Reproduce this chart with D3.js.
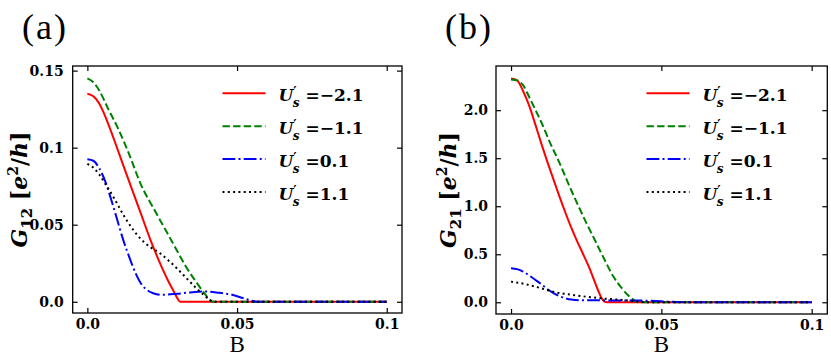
<!DOCTYPE html>
<html>
<head>
<meta charset="utf-8">
<script src="https://cdn.jsdelivr.net/npm/d3@7"></script>
<style>
  body { margin: 0; background: #fff; }
  svg { display: block; }
  svg text { font-family: "DejaVu Serif", serif; }
  .tick text { font-family: "DejaVu Serif", serif; font-weight: bold; font-size: 14px; fill: #000; }
  .tick line { stroke: #000; stroke-width: 1.2; }
  .plain { font-family: "Liberation Serif", "DejaVu Serif", serif; }
</style>
</head>
<body>
<div id="chart"></div>
<script>
// conductance vs B, two panels (a) G12 and (b) G21

// legend labels for the four U's values
var seriesNames = ["\u22122.1", "\u22121.1", "0.1", "1.1"];
var seriesColors = ["#ff0000", "#008000", "#0000ff", "#000000"];
var seriesDash = [null, "7.4,3.2", "12.8,3.2,2,3.2", "2,3.3"];

// tick labels
var xTicks = [0, 0.05, 0.1];
var xTickLabels = ["0.0", "0.05", "0.1"];
var yTicksA = [0, 0.05, 0.1, 0.15];
var yTickLabelsA = ["0.0", "0.05", "0.1", "0.15"];
var yTicksB = [0, 0.5, 1.0, 1.5, 2.0];
var yTickLabelsB = ["0.0", "0.5", "1.0", "1.5", "2.0"];

// panel (a) G12 series (B values and G values)
var aRedB = [0, 0.002, 0.004, 0.006, 0.009, 0.012, 0.015, 0.018, 0.021, 0.024, 0.027, 0.029, 0.030, 0.031, 0.035, 0.05, 0.07, 0.1];
var aRedG = [0.135, 0.1333, 0.1285, 0.1202, 0.1048, 0.0885, 0.0725, 0.0565, 0.0405, 0.0262, 0.0135, 0.0062, 0.0025, 0, 0, 0, 0, 0];

var aGreenB = [0, 0.002, 0.004, 0.007, 0.010, 0.014, 0.018, 0.022, 0.026, 0.030, 0.033, 0.036, 0.039, 0.041, 0.042, 0.05, 0.07, 0.1];
var aGreenG = [0.145, 0.1425, 0.137, 0.125, 0.1135, 0.0955, 0.0755, 0.061, 0.047, 0.033, 0.0225, 0.0138, 0.0057, 0.0012, 0, 0, 0, 0];

var aBlueB = [0, 0.002, 0.004, 0.006, 0.008, 0.010, 0.012, 0.014, 0.016, 0.018, 0.020, 0.022, 0.025, 0.030, 0.035, 0.039, 0.044, 0.048, 0.052, 0.055, 0.057, 0.065, 0.08, 0.1];
var aBlueG = [0.0925, 0.0915, 0.0865, 0.078, 0.066, 0.053, 0.040, 0.029, 0.019, 0.0115, 0.0075, 0.0055, 0.0045, 0.0052, 0.0062, 0.0067, 0.0058, 0.0047, 0.0024, 0.0006, 0, 0, 0, 0];

var aBlackB = [0, 0.002, 0.004, 0.006, 0.009, 0.012, 0.015, 0.018, 0.021, 0.024, 0.027, 0.030, 0.033, 0.036, 0.039, 0.041, 0.042, 0.05, 0.07, 0.1];
var aBlackG = [0.0895, 0.087, 0.0825, 0.0765, 0.067, 0.0565, 0.0475, 0.0405, 0.0355, 0.0318, 0.027, 0.0215, 0.0155, 0.0095, 0.0042, 0.001, 0, 0, 0, 0];

// panel (b) G21 series
var bRedB = [0, 0.002, 0.004, 0.006, 0.008, 0.010, 0.012, 0.014, 0.016, 0.018, 0.020, 0.022, 0.024, 0.026, 0.028, 0.029, 0.030, 0.031, 0.032, 0.04, 0.06, 0.1];
var bRedG = [2.33, 2.31, 2.2, 2.05, 1.86, 1.66, 1.47, 1.29, 1.11, 0.94, 0.78, 0.635, 0.5, 0.36, 0.2, 0.12, 0.05, 0.01, 0, 0, 0, 0];

var bGreenB = [0, 0.002, 0.004, 0.006, 0.008, 0.010, 0.013, 0.016, 0.019, 0.022, 0.025, 0.028, 0.031, 0.034, 0.037, 0.039, 0.041, 0.042, 0.05, 0.07, 0.1];
var bGreenG = [2.32, 2.31, 2.26, 2.14, 2.01, 1.88, 1.66, 1.46, 1.24, 1.03, 0.83, 0.64, 0.45, 0.27, 0.14, 0.07, 0.02, 0, 0, 0, 0];

var bBlueB = [0, 0.002, 0.004, 0.006, 0.008, 0.010, 0.012, 0.014, 0.016, 0.018, 0.020, 0.024, 0.030, 0.035, 0.040, 0.045, 0.050, 0.055, 0.06, 0.08, 0.1];
var bBlueG = [0.355, 0.345, 0.32, 0.28, 0.235, 0.19, 0.14, 0.098, 0.065, 0.042, 0.028, 0.02, 0.02, 0.018, 0.018, 0.017, 0.01, 0.003, 0, 0, 0];

var bBlackB = [0, 0.003, 0.006, 0.009, 0.012, 0.015, 0.018, 0.021, 0.024, 0.027, 0.030, 0.034, 0.038, 0.041, 0.044, 0.046, 0.06, 0.08, 0.1];
var bBlackG = [0.215, 0.2, 0.18, 0.155, 0.128, 0.103, 0.087, 0.074, 0.062, 0.051, 0.041, 0.031, 0.022, 0.013, 0.004, 0, 0, 0, 0];

var svgWidth = 831, svgHeight = 359;

var svg = d3.select("#chart")
  .append("svg")
  .attr("width", svgWidth)
  .attr("height", svgHeight);

// zip helper
function pairs(xs, ys) {
  return xs.map(function(x, i) { return [x, ys[i]]; });
}

function drawPanel(opt) {
  var x = d3.scaleLinear().domain(opt.xDomain).range([opt.left, opt.right]);
  var y = d3.scaleLinear().domain(opt.yDomain).range([opt.bottom, opt.top]);

  var g = svg.append("g");

  // axes with inward ticks, labels on bottom/left
  g.append("g")
    .attr("transform", "translate(0," + opt.bottom + ")")
    .call(d3.axisBottom(x).tickValues(xTicks).tickSize(-5).tickPadding(6)
      .tickFormat(function(d, i) { return xTickLabels[i]; }))
    .call(function(a) { a.select(".domain").remove(); a.attr("font-family", null); });

  g.append("g")
    .attr("transform", "translate(0," + opt.top + ")")
    .call(d3.axisTop(x).tickValues(xTicks).tickSize(-5).tickFormat(""))
    .call(function(a) { a.select(".domain").remove(); });

  g.append("g")
    .attr("transform", "translate(" + opt.left + ",0)")
    .call(d3.axisLeft(y).tickValues(opt.yTicks).tickSize(-5).tickPadding(opt.yPad)
      .tickFormat(function(d, i) { return opt.yTickLabels[i]; }))
    .call(function(a) { a.select(".domain").remove(); a.attr("font-family", null); });

  g.append("g")
    .attr("transform", "translate(" + opt.right + ",0)")
    .call(d3.axisRight(y).tickValues(opt.yTicks).tickSize(-5).tickFormat(""))
    .call(function(a) { a.select(".domain").remove(); });

  // curves
  var line = d3.line()
    .x(function(d) { return x(d[0]); })
    .y(function(d) { return y(d[1]); })
    .curve(d3.curveMonotoneX);

  opt.series.forEach(function(s, i) {
    g.append("path")
      .datum(s)
      .attr("fill", "none")
      .attr("stroke", seriesColors[i])
      .attr("stroke-width", 2)
      .attr("stroke-dasharray", seriesDash[i])
      .attr("d", line);
  });

  // frame
  g.append("rect")
    .attr("x", opt.left)
    .attr("y", opt.top)
    .attr("width", opt.right - opt.left)
    .attr("height", opt.bottom - opt.top)
    .attr("fill", "none")
    .attr("stroke", "#000")
    .attr("stroke-width", 1.3);

  // legend
  seriesNames.forEach(function(name, i) {
    var ly = opt.legendY + i * 32.9;
    g.append("line")
      .attr("x1", opt.legendX)
      .attr("x2", opt.legendX + 43)
      .attr("y1", ly)
      .attr("y2", ly)
      .attr("stroke", seriesColors[i])
      .attr("stroke-width", 2)
      .attr("stroke-dasharray", seriesDash[i]);

    var t = g.append("text")
      .attr("x", opt.legendX + 56)
      .attr("y", ly + 8)
      .attr("font-weight", "bold")
      .attr("font-size", 17);
    t.append("tspan").attr("font-style", "italic").text("U");
    t.append("tspan").attr("font-size", 13).attr("dy", -5).text("\u2032");
    t.append("tspan").attr("font-style", "italic").attr("font-size", 12).attr("dx", -4).attr("dy", 11).text("s");
    t.append("tspan").attr("dx", 6).attr("dy", -6).text("=" + name);
  });

  // y label
  var yl = svg.append("text")
    .attr("transform", "translate(" + opt.yLabelX + "," + ((opt.top + opt.bottom) / 2) + ") rotate(-90)")
    .attr("text-anchor", "middle")
    .attr("font-weight", "bold")
    .attr("font-size", 22);
  yl.append("tspan").attr("font-style", "italic").text("G");
  yl.append("tspan").attr("font-size", 15).attr("dy", 5).text(opt.sub);
  yl.append("tspan").attr("dy", -5).text(" [");
  yl.append("tspan").attr("font-style", "italic").text("e");
  yl.append("tspan").attr("font-size", 14).attr("dy", -9).text("2");
  yl.append("tspan").attr("dy", 9).text("/");
  yl.append("tspan").attr("font-style", "italic").text("h");
  yl.append("tspan").text("]");

  // x label
  svg.append("text")
    .attr("class", "plain")
    .attr("x", (x(0) + x(0.1)) / 2)
    .attr("y", 352)
    .attr("text-anchor", "middle")
    .attr("font-size", 23)
    .text("B");

  // panel letter
  svg.append("text")
    .attr("class", "plain")
    .attr("x", opt.letterX)
    .attr("y", 39)
    .attr("font-size", 36)
    .attr("letter-spacing", 2)
    .text(opt.letter);
}

drawPanel({
  left: 72.7, right: 402, top: 66, bottom: 313,
  xDomain: [-0.0049, 0.1051], yDomain: [-0.0073, 0.153],
  yTicks: yTicksA, yTickLabels: yTickLabelsA, yPad: 9,
  series: [pairs(aRedB, aRedG), pairs(aGreenB, aGreenG), pairs(aBlueB, aBlueG), pairs(aBlackB, aBlackG)],
  legendX: 222.5, legendY: 93.3,
  yLabelX: 27, sub: "12",
  letter: "(a)", letterX: 22
});

drawPanel({
  left: 496, right: 827.3, top: 66, bottom: 314,
  xDomain: [-0.005, 0.1052], yDomain: [-0.122, 2.46],
  yTicks: yTicksB, yTickLabels: yTickLabelsB, yPad: 8,
  series: [pairs(bRedB, bRedG), pairs(bGreenB, bGreenG), pairs(bBlueB, bBlueG), pairs(bBlackB, bBlackG)],
  legendX: 646.5, legendY: 93.3,
  yLabelX: 456, sub: "21",
  letter: "(b)", letterX: 445
});
</script>
</body>
</html>
